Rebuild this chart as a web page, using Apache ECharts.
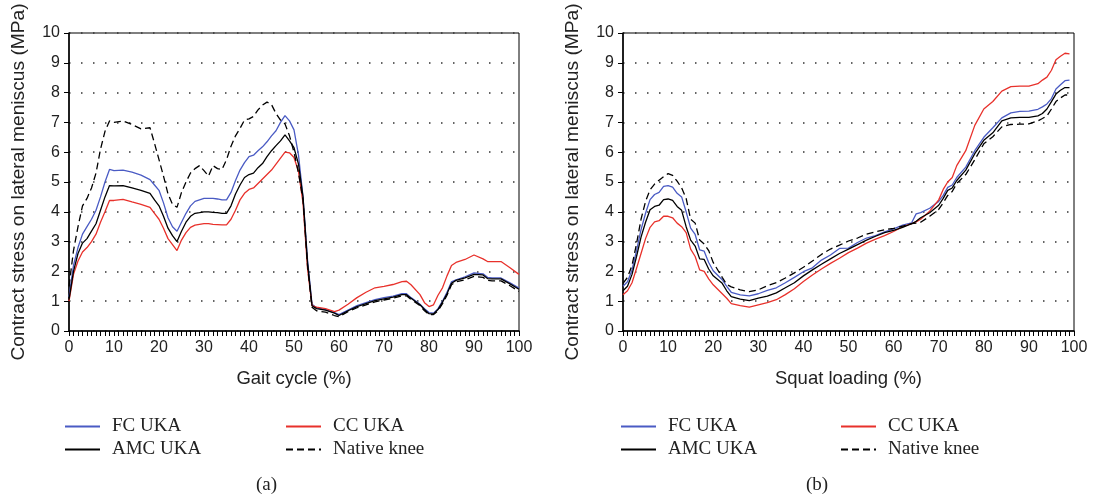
<!DOCTYPE html>
<html>
<head>
<meta charset="utf-8">
<script src="https://cdn.jsdelivr.net/npm/echarts@6/dist/echarts.min.js"></script>
<style>
  html, body { margin: 0; padding: 0; background: #fff; }
  #main { width: 1094px; height: 500px; }
</style>
</head>
<body>
<div id="main"></div>
<script>
// (a) gait cycle, x in %
var gaitX = [0,1,2,3,4,5,6,7,8,9,10,12,14,16,18,19,20,21,22,23,24,25,26,27,28,29,30,31,32,33,34,35,36,37,38,39,40,41,42,43,44,45,46,47,48,49,50,51,52,53,54,55,57,59,60,62,64,66,68,70,72,74,75,76,78,79,80,81,82,83,84,85,86,88,90,92,93,94,96,98,100];
var gaitFC = [1.15,2.2,2.8,3.25,3.5,3.75,4.05,4.5,5.0,5.42,5.38,5.4,5.33,5.23,5.08,4.9,4.72,4.3,3.8,3.5,3.35,3.65,3.95,4.2,4.35,4.4,4.45,4.45,4.45,4.43,4.4,4.4,4.65,5.05,5.4,5.65,5.85,5.9,6.05,6.18,6.35,6.55,6.72,7.0,7.23,7.05,6.75,5.9,4.5,2.4,0.9,0.78,0.72,0.62,0.55,0.7,0.85,0.95,1.05,1.12,1.17,1.25,1.25,1.12,0.9,0.75,0.62,0.6,0.75,1.0,1.3,1.65,1.72,1.82,1.95,1.92,1.8,1.78,1.78,1.62,1.44];
var gaitCC = [1.0,1.9,2.35,2.65,2.8,3.0,3.25,3.65,4.0,4.38,4.38,4.42,4.33,4.25,4.15,3.95,3.75,3.45,3.1,2.9,2.7,3.05,3.3,3.48,3.55,3.58,3.6,3.6,3.58,3.57,3.56,3.56,3.75,4.05,4.4,4.62,4.75,4.8,4.95,5.1,5.25,5.4,5.6,5.8,6.0,5.98,5.82,5.35,4.3,2.1,0.85,0.8,0.75,0.65,0.7,0.9,1.12,1.3,1.45,1.5,1.56,1.66,1.67,1.55,1.22,0.95,0.82,0.88,1.2,1.45,1.85,2.2,2.3,2.4,2.55,2.42,2.33,2.33,2.33,2.12,1.9];
var gaitAMC = [1.05,2.0,2.6,2.95,3.1,3.35,3.6,4.05,4.5,4.88,4.87,4.88,4.8,4.72,4.62,4.4,4.2,3.85,3.45,3.2,3.0,3.35,3.65,3.85,3.95,3.97,4.0,4.0,3.98,3.97,3.95,3.95,4.2,4.6,4.9,5.15,5.25,5.3,5.48,5.62,5.85,6.05,6.22,6.38,6.58,6.38,6.15,5.6,4.5,2.3,0.85,0.75,0.7,0.6,0.52,0.68,0.82,0.92,1.02,1.08,1.14,1.22,1.22,1.1,0.88,0.72,0.58,0.57,0.72,0.97,1.25,1.6,1.7,1.78,1.9,1.88,1.76,1.75,1.75,1.58,1.4];
var gaitNative = [1.5,2.7,3.5,4.2,4.45,4.8,5.3,6.1,6.7,7.05,7.0,7.05,6.93,6.78,6.82,6.3,5.75,5.2,4.6,4.25,4.15,4.65,5.0,5.3,5.45,5.55,5.38,5.2,5.55,5.45,5.42,5.75,6.2,6.55,6.8,7.08,7.12,7.2,7.42,7.58,7.68,7.6,7.3,7.08,6.95,6.55,6.0,5.3,4.4,2.2,0.8,0.68,0.63,0.52,0.48,0.65,0.78,0.88,0.98,1.04,1.1,1.18,1.18,1.06,0.85,0.68,0.55,0.55,0.68,0.92,1.2,1.55,1.65,1.72,1.83,1.8,1.7,1.68,1.68,1.52,1.33];

// (b) squat loading, x in %
var squatX = [0,1,2,3,4,5,6,7,8,9,10,11,12,13,14,15,16,17,18,19,20,22,23,24,26,28,30,32,34,36,38,40,42,44,46,48,50,52,54,56,58,60,62,64,65,66,68,70,71,72,73,74,76,78,80,82,84,86,88,90,92,93,94,95,96,97,98,99];
var squatFC = [1.5,1.65,2.05,2.7,3.4,3.95,4.41,4.58,4.65,4.85,4.88,4.83,4.62,4.5,4.0,3.45,3.24,2.72,2.68,2.3,2.02,1.72,1.5,1.3,1.21,1.18,1.25,1.36,1.45,1.62,1.8,1.99,2.12,2.38,2.55,2.77,2.78,2.97,3.12,3.2,3.33,3.43,3.55,3.63,3.93,3.97,4.12,4.35,4.55,4.82,4.9,5.15,5.5,6.05,6.5,6.82,7.15,7.32,7.37,7.38,7.44,7.52,7.62,7.8,8.12,8.26,8.4,8.42];
var squatCC = [1.22,1.35,1.62,2.1,2.6,3.1,3.48,3.66,3.7,3.85,3.85,3.8,3.62,3.5,3.3,2.75,2.5,2.05,2.0,1.75,1.55,1.25,1.1,0.92,0.85,0.8,0.88,0.95,1.05,1.22,1.42,1.66,1.88,2.08,2.27,2.44,2.63,2.78,2.95,3.08,3.2,3.34,3.5,3.6,3.66,3.75,4.02,4.4,4.75,5.0,5.15,5.55,6.05,6.9,7.45,7.7,8.05,8.2,8.22,8.22,8.3,8.42,8.52,8.75,9.1,9.22,9.32,9.3];
var squatAMC = [1.35,1.5,1.9,2.5,3.15,3.65,4.07,4.18,4.22,4.41,4.43,4.38,4.18,4.05,3.5,3.05,2.85,2.42,2.4,2.08,1.85,1.6,1.35,1.15,1.07,1.02,1.1,1.17,1.28,1.45,1.62,1.85,2.05,2.24,2.42,2.6,2.75,2.9,3.05,3.18,3.3,3.38,3.48,3.6,3.68,3.8,3.97,4.22,4.45,4.72,4.8,5.05,5.4,5.95,6.4,6.65,7.05,7.15,7.17,7.17,7.22,7.3,7.45,7.7,7.95,8.08,8.17,8.17];
var squatNative = [1.6,1.8,2.2,2.93,3.75,4.35,4.74,4.93,5.06,5.18,5.28,5.22,5.03,4.8,4.45,3.75,3.62,3.05,2.92,2.7,2.3,1.8,1.56,1.48,1.38,1.32,1.38,1.52,1.62,1.78,1.95,2.14,2.35,2.57,2.75,2.88,3.02,3.12,3.25,3.33,3.4,3.44,3.52,3.6,3.62,3.65,3.85,4.08,4.3,4.55,4.68,4.95,5.25,5.75,6.28,6.52,6.85,6.93,6.94,6.95,7.05,7.13,7.22,7.45,7.7,7.82,7.92,7.92];

var seriesNames = ["FC UKA", "CC UKA", "AMC UKA", "Native knee"];
var panelLabels = ["(a)", "(b)"];
var xNames = ["Gait cycle (%)", "Squat loading (%)"];
var yName = "Contract stress on lateral meniscus (MPa)";

var sans = "Liberation Sans";
var serif = "Liberation Serif";

function pairs(xs, ys) {
  var out = [];
  for (var i = 0; i < xs.length; i++) {
    out.push([xs[i], ys[i]]);
  }
  return out;
}

function makeX(idx) {
  return {
    type: "value",
    gridIndex: idx,
    min: 0,
    max: 100,
    interval: 10,
    name: xNames[idx],
    nameLocation: "middle",
    nameGap: 38,
    nameTextStyle: { fontFamily: sans, fontSize: 18.5, color: "#222" },
    axisLine: { show: true, onZero: false, lineStyle: { color: "#000", width: 1.5 } },
    axisTick: { show: true, length: 5, lineStyle: { color: "#000", width: 1 } },
    // one small tick for every 1 %
    minorTick: { show: true, splitNumber: 10, length: 5, lineStyle: { color: "#000", width: 1 } },
    axisLabel: { fontFamily: sans, fontSize: 16, color: "#222", margin: 9 },
    splitLine: { show: false },
  };
}

function makeY(idx) {
  return {
    type: "value",
    gridIndex: idx,
    min: 0,
    max: 10,
    interval: 1,
    name: yName,
    nameLocation: "middle",
    nameGap: 41,
    nameTextStyle: { fontFamily: sans, fontSize: 19.2, color: "#222" },
    axisLine: { show: true, onZero: false, lineStyle: { color: "#000", width: 1.5 } },
    axisTick: { show: true, length: 5, lineStyle: { color: "#000" } },
    axisLabel: { fontFamily: sans, fontSize: 16, color: "#222", margin: 9 },
    splitLine: {
      show: true,
      lineStyle: { color: "#333", width: 1.5, type: [1.5, 10.5] },
    },
  };
}

function makeLine(name, idx, xs, ys, color, dashed) {
  return {
    name: name,
    type: "line",
    xAxisIndex: idx,
    yAxisIndex: idx,
    data: pairs(xs, ys),
    symbol: "none",
    showSymbol: false,
    animation: false,
    lineStyle: { color: color, width: 1.3, type: dashed ? [7, 4] : "solid" },
    itemStyle: { color: color },
  };
}

function makeLegend(left, names) {
  return {
    left: left,
    top: 412,
    orient: "vertical",
    data: names,
    itemWidth: 35,
    itemHeight: 14,
    itemGap: 4,
    selectedMode: false,
    itemStyle: { opacity: 0 }, // keep only the line sample
    textStyle: { fontFamily: serif, fontSize: 19, color: "#222", padding: [0, 0, 0, 7] },
  };
}

var myChart = echarts.init(document.getElementById("main"));
var option = {
  backgroundColor: "#fff",
  animation: false,
  grid: [
    { left: 69, right: 575, top: 33, bottom: 169, show: true, borderColor: "#000", borderWidth: 1, outerBoundsMode: "none", containLabel: false },
    { left: 623, right: 20, top: 33, bottom: 169, show: true, borderColor: "#000", borderWidth: 1, outerBoundsMode: "none", containLabel: false },
  ],
  xAxis: [makeX(0), makeX(1)],
  yAxis: [makeY(0), makeY(1)],
  legend: [
    makeLegend(59, [seriesNames[0], seriesNames[2]]),
    makeLegend(280, [seriesNames[1], seriesNames[3]]),
    makeLegend(615, [seriesNames[0], seriesNames[2]]),
    makeLegend(835, [seriesNames[1], seriesNames[3]]),
  ],
  graphic: [
    { type: "text", left: 256, top: 476, style: { text: panelLabels[0], font: "19px " + serif, fill: "#222" } },
    { type: "text", left: 806, top: 476, style: { text: panelLabels[1], font: "19px " + serif, fill: "#222" } },
  ],
  series: [
    makeLine(seriesNames[0], 0, gaitX, gaitFC, "#4a5bc4", false),
    makeLine(seriesNames[1], 0, gaitX, gaitCC, "#e8312b", false),
    makeLine(seriesNames[2], 0, gaitX, gaitAMC, "#000", false),
    makeLine(seriesNames[3], 0, gaitX, gaitNative, "#000", true),
    makeLine(seriesNames[0], 1, squatX, squatFC, "#4a5bc4", false),
    makeLine(seriesNames[1], 1, squatX, squatCC, "#e8312b", false),
    makeLine(seriesNames[2], 1, squatX, squatAMC, "#000", false),
    makeLine(seriesNames[3], 1, squatX, squatNative, "#000", true),
  ],
};
myChart.setOption(option);
</script>
</body>
</html>
